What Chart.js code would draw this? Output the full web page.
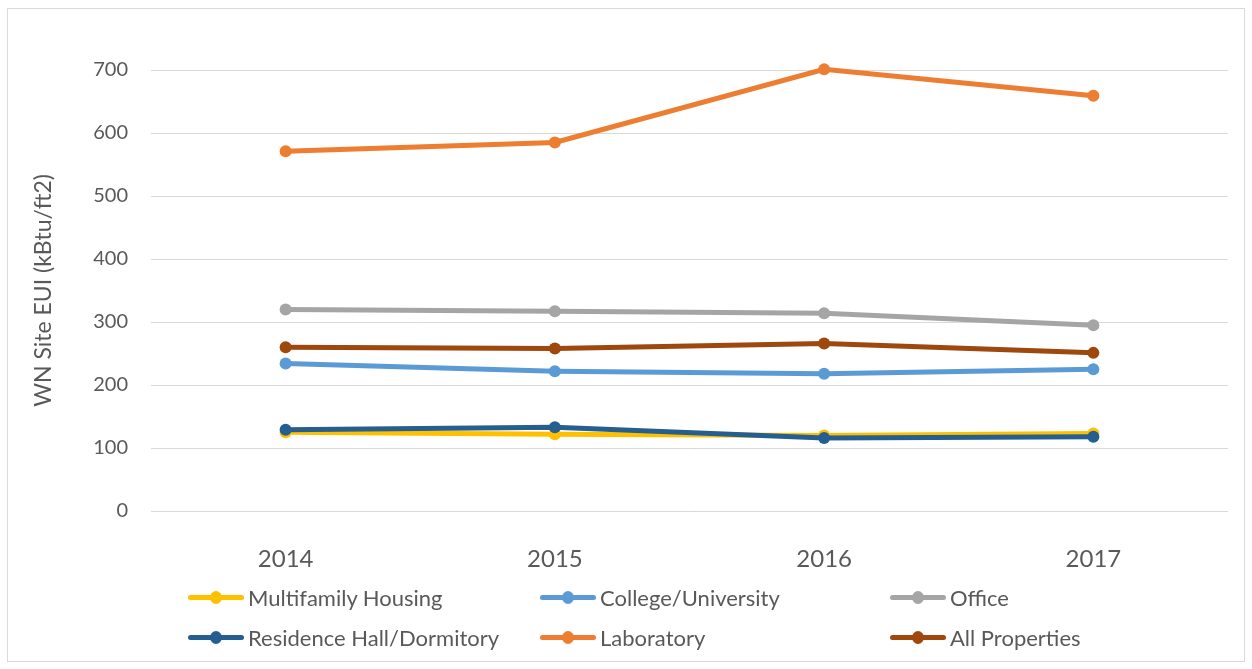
<!DOCTYPE html>
<html>
<head>
<meta charset="utf-8">
<script src="https://cdn.jsdelivr.net/npm/chart.js@4/dist/chart.umd.min.js"></script>
<style>
  html, body { margin: 0; padding: 0; background: #fff; }
  #wrap { position: relative; width: 1252px; height: 669px; }
  #frame { position: absolute; left: 7px; top: 8px; width: 1236px; height: 652px; border: 1px solid #d9d9d9; }
  #euiChart { position: absolute; left: 0; top: 0; }
  #legend { position: absolute; left: 188px; top: 580px; display: grid;
            grid-template-columns: 352px 350px 300px; grid-auto-rows: 40px;
            font-family: Lato, sans-serif; font-size: 22px; color: #595959; }
  .item { display: flex; align-items: center; height: 34px; }
  .mark { position: relative; width: 56px; height: 5px; border-radius: 3px; margin-right: 4px; }
  .mark span { position: absolute; left: 22px; top: -4px; width: 12px; height: 13px; border-radius: 50%; }
</style>
</head>
<body>
<div id="wrap">
  <div id="frame"></div>
  <canvas id="euiChart" width="1252" height="669"></canvas>
  <div id="legend"></div>
</div>
<script>
const years = ['2014', '2015', '2016', '2017'];
const yTicks = [0, 100, 200, 300, 400, 500, 600, 700];

const multifamily = [125, 122, 120, 123];
const college = [234, 222, 218, 225];
const office = [320, 317, 314, 295];
const residence = [129, 133, 116, 118];
const laboratory = [571, 585, 701, 659];
const allProperties = [260, 258, 266, 251];

const seriesNames = ['Multifamily Housing', 'College/University', 'Office',
                     'Residence Hall/Dormitory', 'Laboratory', 'All Properties'];
const seriesData = [multifamily, college, office, residence, laboratory, allProperties];
const seriesColors = ['#FFC000', '#5B9BD5', '#A5A5A5', '#255E91', '#ED7D31', '#9E480E'];

const textColor = '#595959';

function gen_datasets() {
    return seriesNames.map((name, i) => ({
        label: name,
        data: seriesData[i],
        borderColor: seriesColors[i],
        backgroundColor: seriesColors[i],
        borderWidth: 5,
        pointRadius: 6,
        pointBorderWidth: 0,
        pointHoverRadius: 6,
        clip: false,
        // later series sit on top, like the spreadsheet draws them
        order: seriesNames.length - i,
        tension: 0
    }));
}

const ctx = document.getElementById('euiChart');
const chart = new Chart(ctx, {
    type: 'line',
    data: {
        labels: years,
        datasets: gen_datasets()
    },
    options: {
        responsive: false,
        animation: false,
        layout: {
            padding: { left: 30, right: 24, top: 70, bottom: 0 }
        },
        plugins: {
            legend: { display: false },
            tooltip: { enabled: false }
        },
        scales: {
            x: {
                offset: true,
                grid: { display: false },
                border: { display: false },
                ticks: {
                    color: textColor,
                    padding: 26,
                    font: { family: 'Lato', size: 24 }
                },
                afterFit: (scale) => { scale.height = 158; }
            },
            y: {
                min: 0,
                max: 700,
                afterBuildTicks: (scale) => { scale.ticks = yTicks.map(v => ({ value: v })); },
                grid: { color: '#d9d9d9', lineWidth: 1, drawTicks: false },
                border: { display: false },
                ticks: {
                    color: textColor,
                    padding: 23,
                    font: { family: 'Lato', size: 20 }
                },
                title: {
                    display: true,
                    text: 'WN Site EUI (kBtu/ft2)',
                    color: textColor,
                    padding: 0,
                    font: { family: 'Lato', size: 23 }
                },
                afterFit: (scale) => { scale.width = 121; }
            }
        }
    }
});

// legend laid out in three columns, built from the same series lists
const legend = document.getElementById('legend');
seriesNames.forEach((name, i) => {
    const item = document.createElement('div');
    item.className = 'item';
    item.innerHTML = `<div class="mark" style="background:${seriesColors[i]}"><span style="background:${seriesColors[i]}"></span></div>${name}`;
    legend.appendChild(item);
});
</script>
</body>
</html>
